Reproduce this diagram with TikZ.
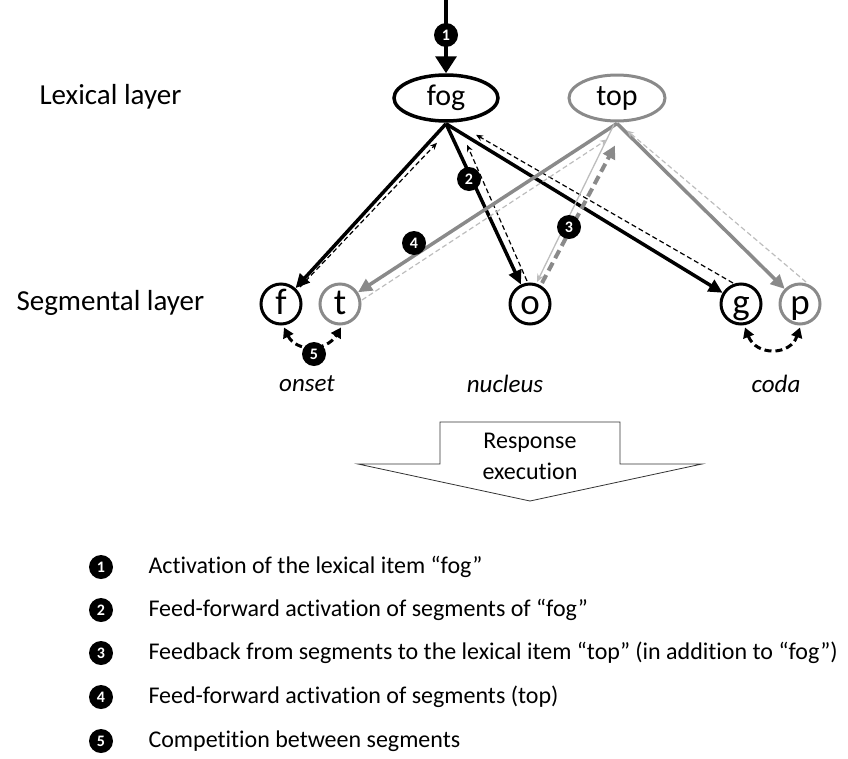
\documentclass[tikz,border=0pt]{standalone}
\usepackage{fontspec}
\setmainfont{Carlito}[Ligatures=NoCommon]
\usetikzlibrary{arrows.meta,calc,shapes.geometric}
\definecolor{midgray}{HTML}{8A8A8A}
\definecolor{lightgray2}{HTML}{BDBDBD}
\begin{document}
\begin{tikzpicture}[x=1pt,y=-1pt,
  lex/.style={ellipse, draw, minimum width=104pt, minimum height=46pt, inner sep=0pt, font=\fontsize{30}{30}\selectfont},
  seg/.style={circle, draw, minimum size=40pt, inner sep=0pt, line width=3pt, text height=21pt, text depth=0pt, font=\fontsize{37}{37}\selectfont},
  badge/.style={circle, fill=black, text=white, minimum size=24pt, inner sep=0pt, font=\bfseries\fontsize{16}{16}\selectfont},
  laylabel/.style={font=\fontsize{29}{30}\selectfont, anchor=west},
  sylpos/.style={font=\itshape\fontsize{25}{26}\selectfont},
  legendtext/.style={font=\fontsize{24}{26}\selectfont, anchor=west},
  fwd/.style={line width=3.5pt, -{Triangle[length=14pt,width=13pt]}},
  fwdg/.style={line width=3.5pt, midgray, -{Triangle[length=14pt,width=13pt]}},
  back/.style={line width=1.2pt, dash pattern=on 5pt off 3pt, -{Stealth[length=7pt,width=6pt]}},
  backg/.style={line width=1.2pt, lightgray2, dash pattern=on 5pt off 3pt, -{Stealth[length=7pt,width=6pt]}},
  comp/.style={line width=3pt, dash pattern=on 7pt off 4pt, {Triangle[length=10pt,width=11pt]}-{Triangle[length=10pt,width=11pt]}},
]
\useasboundingbox (0,0) rectangle (848,758);

% lexical nodes
\node[lex, line width=3.5pt] (fog) at (446,98) {fog};
\node[lex, line width=3pt, draw=midgray, minimum width=96pt] (top) at (617,98) {top};

% segment nodes
\node[seg] (f) at (281,304) {f};
\node[seg, draw=midgray] (t) at (340,304) {t};
\node[seg] (o) at (530,304) {o};
\node[seg] (g) at (741,304) {g};
\node[seg, draw=midgray] (p) at (800,304) {p};

% labels
\node[laylabel] (lexl) at (36,97) {Lexical layer};
\node[laylabel] (segl) at (13,303) {Segmental layer};
\node[sylpos] (onset) at (307,384) {onset};
\node[sylpos] (nucleus) at (505,384) {nucleus};
\node[sylpos] (coda) at (776,384) {coda};

% anchor points
\coordinate (fs) at ($(fog.south)+(0,1)$);
\coordinate (ts) at ($(top.south)+(0,1)$);
\coordinate (in) at (446,0);

% arrow 1
\draw[line width=3.5pt, -{Triangle[length=17pt,width=21pt]}] (in) -- (fog.north);
\node[badge] (b1) at (446,35) {1};

% feed-forward fog
\draw[fwd] (fs) -- (f);
\draw[fwd] (fs) -- (o);
\draw[fwd] (fs) -- (g);

% feedback to fog (dashed)
\draw[back] ($(f)+(19,-17)$) -- ($(fog.south)+(-9,20)$);
\draw[back] ($(o)+(-3,-23)$) -- ($(fog.south)+(21,22)$);
\draw[back] ($(g)+(-8,-21)$) -- ($(fog.south)+(30,12)$);

% feed-forward top
\draw[fwdg] (ts) -- (t);
\draw[fwdg] (ts) -- (p);

% light feedback to top
\draw[backg] ($(t)+(22,-4)$) -- ($(top.south)+(-10,17)$);
\draw[backg] ($(p)+(6,-22)$) -- ($(top.south)+(10,8)$);

% light thin top -> o
\draw[line width=1.3pt, lightgray2, -{Stealth[length=8pt,width=7pt]}] ($(top.south)+(-3,2)$) -- ($(o)+(7,-22)$);
% feedback o -> top (thick dashed gray)
\draw[line width=4pt, midgray, dash pattern=on 9pt off 5pt, -{Triangle[length=13pt,width=13pt]}] ($(o)+(12,-21)$) -- ($(top.south)+(-2,23)$);

% competition
\draw[comp] ($(f.south)+(3,2)$) .. controls (296,352) and (326,352) .. ($(t.south)+(1,2)$);
\draw[comp] ($(g.south)+(4,2)$) .. controls (756,356) and (790,356) .. ($(p.south)+(0,2)$);

% badges on arrows
\node[badge] (b2) at (469,179) {2};
\node[badge] (b3) at (569,227) {3};
\node[badge] (b4) at (414,243) {4};
\node[badge] (b5) at (314,354) {5};

% response execution arrow
\draw[line width=0.8pt, draw=black!80] (440,422) -- (620,422) -- (620,464) -- (702,464) -- (530,501) -- (358,464) -- (440,464) -- cycle;
\node[font=\fontsize{24}{31}\selectfont, align=center] (resp) at (530,456) {Response\\execution};

% legend
\foreach \i/\y/\t in {1/567/{Activation of the lexical item “fog”},
                      2/610/{Feed-forward activation of segments of “fog”},
                      3/653/{Feedback from segments to the lexical item “top” (in addition to “fog”)},
                      4/697/{Feed-forward activation of segments (top)},
                      5/741/{Competition between segments}}{
  \node[badge] (lb\i) at (101,\y) {\i};
  \node[legendtext] (lt\i) at (145,\y) {\t};
}
\end{tikzpicture}
\end{document}
